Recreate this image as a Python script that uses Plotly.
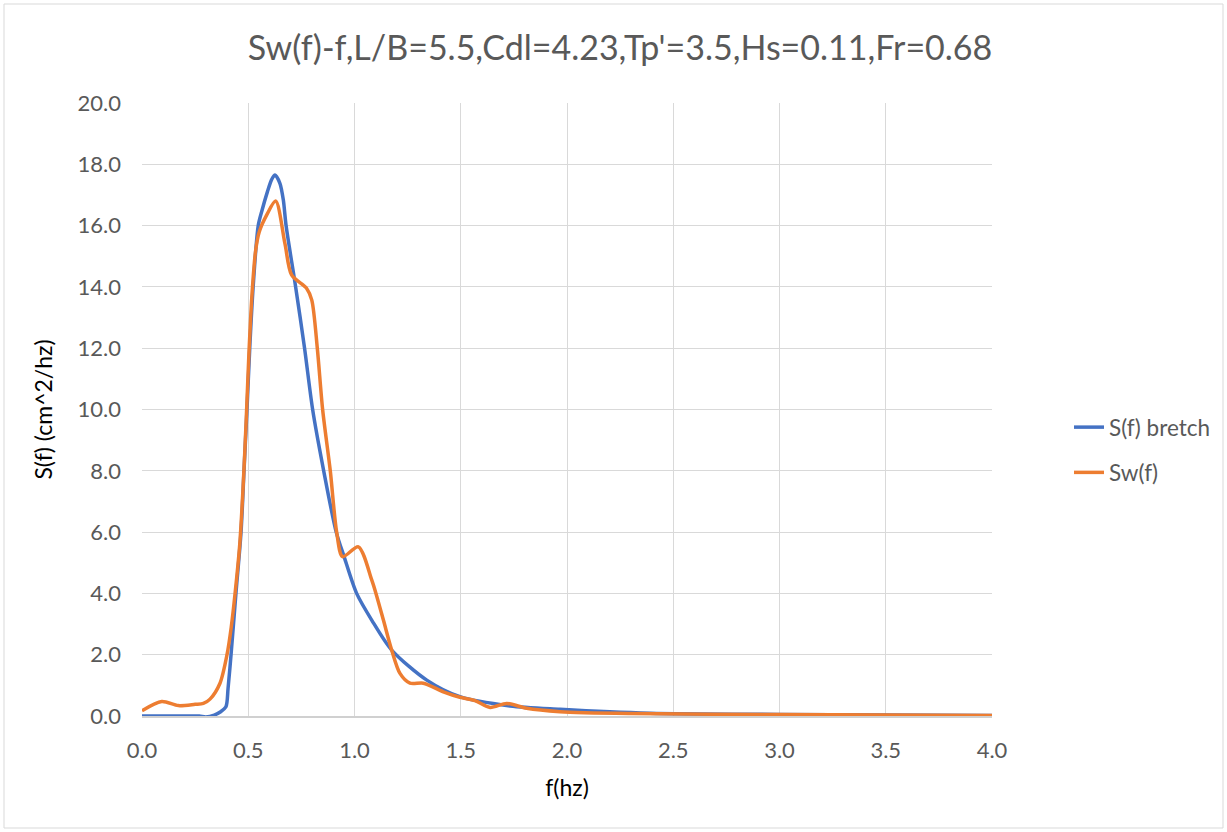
import plotly.graph_objects as go

# Bretschneider spectrum
f_bretch = [0.0, 0.1, 0.2, 0.27, 0.30, 0.34, 0.37, 0.395, 0.405, 0.419, 0.442, 0.466, 0.48,
            0.494, 0.507, 0.523, 0.547, 0.565, 0.59, 0.61, 0.626, 0.649, 0.665, 0.678,
            0.723, 0.765, 0.803, 0.855, 0.914, 0.951, 1.01, 1.081, 1.175, 1.34, 1.496,
            1.732, 1.967, 2.39, 3.0, 3.5, 4.0]
s_bretch = [0.0, 0.0, 0.0, 0.0, -0.03, 0.03, 0.14, 0.3, 0.9, 2.0, 4.0, 6.0, 8.0,
            10.0, 12.0, 14.0, 16.0, 16.5, 17.1, 17.5, 17.65, 17.38, 16.84, 16.0,
            14.0, 12.0, 10.0, 8.0, 6.0, 5.2, 4.0, 3.13, 2.15, 1.17, 0.63,
            0.33, 0.22, 0.09, 0.05, 0.03, 0.02]

# Measured spectrum Sw(f)
f_sw = [0.0, 0.093, 0.171, 0.25, 0.289, 0.32, 0.367, 0.40, 0.42, 0.438, 0.46, 0.476,
        0.49, 0.503, 0.518, 0.535, 0.552, 0.587, 0.629, 0.673, 0.704, 0.775, 0.799,
        0.825, 0.85, 0.886, 0.916, 0.944, 1.018, 1.081, 1.101, 1.136, 1.175,
        1.214, 1.261, 1.324, 1.418, 1.496, 1.567, 1.638, 1.716, 1.81, 1.967, 2.3,
        3.0, 4.0]
s_sw = [0.17, 0.47, 0.34, 0.38, 0.41, 0.55, 1.07, 2.0, 2.9, 4.0, 5.6, 7.5,
        9.6, 11.8, 13.8, 15.2, 15.8, 16.35, 16.8, 15.4, 14.39, 13.95, 13.57,
        12.0, 10.0, 8.0, 6.0, 5.2, 5.52, 4.44, 4.0, 3.13, 2.15,
        1.39, 1.07, 1.07, 0.79, 0.61, 0.5, 0.28, 0.41, 0.25, 0.14, 0.08,
        0.05, 0.02]

title_text = "Sw(f)-f,L/B=5.5,Cdl=4.23,Tp'=3.5,Hs=0.11,Fr=0.68"
x_title = "f(hz)"
y_title = "S(f) (cm^2/hz)"
x_ticks = [0.0, 0.5, 1.0, 1.5, 2.0, 2.5, 3.0, 3.5, 4.0]
y_ticks = [0, 2, 4, 6, 8, 10, 12, 14, 16, 18, 20]

FONT = "Lato"
GREY = "#595959"

fig = go.Figure()
fig.add_trace(go.Scatter(x=f_bretch, y=s_bretch, mode="lines", name="S(f) bretch",
                         legendgroup="a",
                         line=dict(color="#4472C4", width=3.5, shape="spline", smoothing=0.8)))
fig.add_trace(go.Scatter(x=f_sw, y=s_sw, mode="lines", name="Sw(f)",
                         legendgroup="b",
                         line=dict(color="#ED7D31", width=3.5, shape="spline", smoothing=0.8)))

W, H = 1227, 832
L, R, T, B = 142, 235, 103, 116
pw, ph = W - L - R, H - T - B

fig.update_layout(
    width=W, height=H,
    margin=dict(l=L, r=R, t=T, b=B, autoexpand=False),
    paper_bgcolor="white", plot_bgcolor="white",
    font=dict(family=FONT, color=GREY, size=22),
    title=dict(text=title_text, x=620 / W, xref="container", xanchor="center",
               y=1 - 48 / H, yref="container", yanchor="middle",
               font=dict(family=FONT, size=34, color=GREY)),
    xaxis=dict(range=[0, 4], tickvals=x_ticks, tickformat=".1f",
               showgrid=True, gridcolor="#d9d9d9", gridwidth=1, zeroline=False,
               showline=True, linecolor="#d0d0d0", linewidth=1.5,
               ticks="", ticklabelstandoff=14, automargin=False,
               tickfont=dict(size=22, color=GREY),
               title=dict(text=x_title, font=dict(size=23, color="#000000"), standoff=18)),
    yaxis=dict(range=[0, 20], tickvals=y_ticks, tickformat=".1f",
               showgrid=True, gridcolor="#d9d9d9", gridwidth=1, zeroline=False,
               showline=False, ticks="", ticklabelstandoff=20, automargin=False,
               tickfont=dict(size=22, color=GREY),
               title=dict(text=y_title, font=dict(size=23, color="#000000"), standoff=18)),
    legend=dict(x=(1069 - L) / pw, xanchor="left", y=(716 - 450) / ph, yanchor="middle",
                font=dict(size=22.5, color=GREY), traceorder="grouped", tracegroupgap=13,
                bgcolor="rgba(0,0,0,0)"),
    shapes=[dict(type="rect", xref="paper", yref="paper",
                 x0=(4 - L) / pw, x1=(1223 - L) / pw,
                 y0=(716 - 828) / ph, y1=(716 - 4) / ph,
                 line=dict(color="#d9d9d9", width=1), layer="below")],
)

fig.write_html("out.html", config={"displayModeBar": False},
               post_script="document.body.style.margin='0';")
